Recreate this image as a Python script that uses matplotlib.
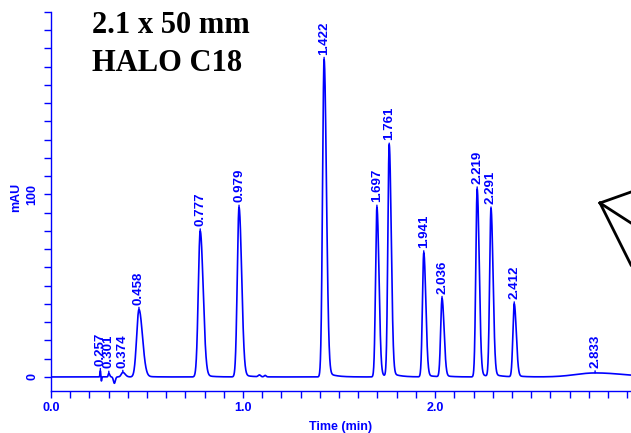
import numpy as np
import matplotlib
matplotlib.use("Agg")
import matplotlib.pyplot as plt
from matplotlib.lines import Line2D

# peak table (time in min, height in mAU, sigma in min)
peak_times = [0.257, 0.301, 0.374, 0.458, 0.777, 0.979, 1.422, 1.697, 1.761,
              1.941, 2.036, 2.219, 2.291, 2.412, 2.833]
peak_heights = [3.5, 2.0, 2.5, 37, 80, 93, 174, 93, 127, 68, 43, 103, 92, 40, 2.2]
peak_sigmas = [0.002, 0.003, 0.008, 0.012, 0.010, 0.009, 0.008, 0.007, 0.007,
               0.007, 0.007, 0.007, 0.007, 0.007, 0.10]
peak_labels = ["0.257", "0.301", "0.374", "0.458", "0.777", "0.979", "1.422", "1.697",
               "1.761", "1.941", "2.036", "2.219", "2.291", "2.412", "2.833"]

# small baseline disturbances (negative dips, minor bumps)
blip_times = [0.262, 0.330, 1.085, 1.115]
blip_heights = [-3.0, -3.5, 1.0, 0.8]
blip_sigmas = [0.002, 0.005, 0.006, 0.005]

x_ticklabels = ["0.0", "1.0", "2.0"]
y_ticklabels = ["0", "100"]

blue = "#0000ff"

t = np.linspace(0, 3.05, 6000)
signal = np.zeros_like(t)
for rt, h, s in zip(peak_times, peak_heights, peak_sigmas):
    sl = np.where(t < rt, s, s * 1.5)
    signal += h * np.exp(-0.5 * ((t - rt) / sl) ** 2)
    # slight tailing of the foot
    tail = np.where(t > rt, np.exp(-(t - rt) / 0.04), 0)
    signal += 0.02 * h * tail * (1 - np.exp(-0.5 * ((t - rt) / s) ** 2))
for rt, h, s in zip(blip_times, blip_heights, blip_sigmas):
    signal += h * np.exp(-0.5 * ((t - rt) / s) ** 2)

fig = plt.figure(figsize=(6.31, 4.33), dpi=100)
ax = fig.add_axes([51 / 631, 1 - 391 / 433, 1 - 51 / 631, (391 - 12) / 433])
ax.plot(t, signal, color=blue, lw=1.2)

for rt, h, lab in zip(peak_times, peak_heights, peak_labels):
    ax.annotate(lab, xy=(rt, h), xytext=(0, 3.5), textcoords="offset points",
                rotation=90, ha="center", va="bottom", fontsize=9.5,
                fontweight="bold", color=blue, family="Liberation Sans",
                arrowprops=dict(arrowstyle="-", color=blue, lw=1,
                                shrinkA=0, shrinkB=0))

ax.set_xlim(0, 3.02)
ax.set_ylim(-7.7, 200)
ax.set_xticks(np.arange(0, 3.01, 0.1))
ax.set_xticklabels([x_ticklabels[int(round(v))] if abs(v - round(v)) < 1e-6 and round(v) < 3 else ""
                    for v in np.arange(0, 3.01, 0.1)])
yt = np.arange(0, 201, 10)
ax.set_yticks(yt)
ax.set_yticklabels([y_ticklabels[v // 100] if v in (0, 100) else "" for v in yt],
                   rotation=90, va="center")

for sp in ["top", "right"]:
    ax.spines[sp].set_visible(False)
for sp in ["left", "bottom"]:
    ax.spines[sp].set_color(blue)
    ax.spines[sp].set_linewidth(1.0)
ax.tick_params(colors=blue, length=5, width=1, labelsize=9, pad=3)
ax.tick_params(axis="y", pad=4)
for lbl in ax.get_xticklabels() + ax.get_yticklabels():
    lbl.set_fontweight("bold")
    lbl.set_family("Liberation Sans")

ax.set_xlabel("Time (min)", color=blue, fontsize=9, fontweight="bold",
              family="Liberation Sans", labelpad=5)
ax.set_ylabel("mAU", color=blue, fontsize=9, fontweight="bold",
              family="Liberation Sans")
ax.yaxis.set_label_coords(-0.05, 0.51)

fig.text(92 / 631, 1 - 11 / 433, "2.1 x 50 mm\nHALO C18", ha="left", va="top",
         family="Liberation Serif", fontweight="bold", fontsize=22,
         linespacing=1.4, color="black")

# partial arrow graphic at the right edge
vx, vy = 600 / 631, 1 - 203 / 433
for ex, ey in [(631, 192), (631, 223), (631, 265)]:
    fig.add_artist(Line2D([vx, ex / 631], [vy, 1 - ey / 433], color="black", lw=2))

fig.savefig("out.png", dpi=100)
